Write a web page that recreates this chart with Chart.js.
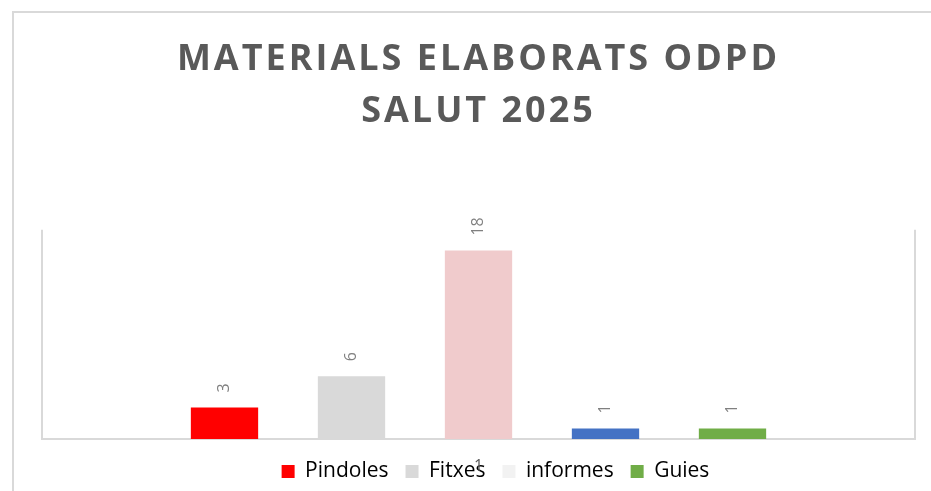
<!DOCTYPE html>
<html>
<head>
<meta charset="utf-8">
<script src="https://cdn.jsdelivr.net/npm/chart.js@4.4.1/dist/chart.umd.min.js"></script>
<style>
    html, body { margin: 0; padding: 0; background: #ffffff; overflow: hidden; }
    #frame { position: absolute; left: 12px; top: 11px; width: 940px; height: 500px;
             border-top: 2px solid #d9d9d9; border-left: 2px solid #d9d9d9; }
    #wrap { position: absolute; left: 0; top: 0; width: 931px; height: 491px; }
</style>
</head>
<body>
<div id="frame"></div>
<div id="wrap"><canvas id="chart" width="931" height="491"></canvas></div>
<script>
// chart data
const titleLines = ['MATERIALS ELABORATS ODPD', 'SALUT 2025'];
const slots = ['', 'Pindoles', 'Fitxes', 'informes', 'altres', 'Guies', ''];
const values = [null, 3, 6, 18, 1, 1, null];
const barColors = ['#ffffff', '#ff0000', '#d9d9d9', '#f0cbcc', '#4472c4', '#70ad47', '#ffffff'];
const legendNames = ['Pindoles', 'Fitxes', 'informes', 'Guies'];
const legendColors = ['#ff0000', '#d9d9d9', '#f2f2f2', '#70ad47'];
const yMin = 0;
const yMax = 20;
const strayLabel = { slot: 3, text: '1' }; // label sitting under the "informes" bar, on the legend row

// plot frame: left, right and bottom lines, inset a little from the category band
const plotFrame = {
    id: 'plotFrame',
    beforeDatasetsDraw(chart) {
        const { ctx, chartArea } = chart;
        const inset = 8;
        const l = chartArea.left + inset, r = chartArea.right - inset;
        ctx.save();
        ctx.strokeStyle = '#d9d9d9';
        ctx.lineWidth = 2;
        ctx.beginPath();
        ctx.moveTo(l, chartArea.top);
        ctx.lineTo(l, chartArea.bottom);
        ctx.lineTo(r, chartArea.bottom);
        ctx.lineTo(r, chartArea.top);
        ctx.stroke();
        ctx.restore();
    }
};

// rotated value labels above each bar
const barLabels = {
    id: 'barLabels',
    afterDatasetsDraw(chart) {
        const { ctx, chartArea } = chart;
        const meta = chart.getDatasetMeta(0);
        ctx.save();
        ctx.font = '16px "Open Sans"';
        ctx.fillStyle = '#808080';
        ctx.textAlign = 'left';
        ctx.textBaseline = 'middle';
        meta.data.forEach((bar, i) => {
            if (values[i] == null) return;
            ctx.save();
            ctx.translate(bar.x, bar.y - 15);
            ctx.rotate(-Math.PI / 2);
            ctx.fillText(String(values[i]), 0, 0);
            ctx.restore();
        });
        // the odd label that ended up on the legend line
        const b = meta.data[strayLabel.slot];
        ctx.fillStyle = '#595959';
        ctx.textAlign = 'center';
        ctx.fillText(strayLabel.text, b.x, chartArea.bottom + 27);
        ctx.restore();
    }
};

// spaced-out title letters and a legend nudged right/down, like the original
const titleAndLegend = {
    id: 'titleAndLegend',
    afterLayout(chart) {
        chart.legend.left += 17;
        chart.legend.right += 17;
        chart.legend.top += 2;
        chart.legend.bottom += 2;
    },
    beforeDraw(chart) {
        const tb = chart.titleBlock;
        if (!tb || tb._spaced) return;
        const draw = tb.draw.bind(tb);
        tb.draw = (area) => {
            chart.ctx.save();
            chart.ctx.letterSpacing = '3px';
            draw(area);
            chart.ctx.restore();
        };
        tb._spaced = true;
    }
};

const ctx = document.querySelector('#chart').getContext('2d');

new Chart(ctx, {
    type: 'bar',
    data: {
        labels: slots,
        datasets: [{
            label: 'Materials',
            data: values,
            backgroundColor: barColors,
            borderWidth: 0,
            barPercentage: 0.53,
            categoryPercentage: 1
        }]
    },
    options: {
        responsive: false,
        animation: false,
        devicePixelRatio: 1,
        layout: { padding: { left: 34, right: 8, top: 0, bottom: 1 } },
        scales: {
            x: {
                display: true,
                grid: { display: false },
                border: { display: false },
                ticks: { display: false },
                afterFit: (scale) => { scale.height = 3; }
            },
            y: {
                display: false,
                min: yMin,
                max: yMax
            }
        },
        plugins: {
            title: {
                display: true,
                text: titleLines,
                color: '#595959',
                font: { family: 'Open Sans', size: 36, weight: 'bold', lineHeight: 1.44 },
                padding: { top: 34, bottom: 92 }
            },
            legend: {
                display: true,
                position: 'bottom',
                labels: {
                    color: '#595959',
                    font: { family: 'Open Sans', size: 21 },
                    boxWidth: 13,
                    boxHeight: 13,
                    padding: 17,
                    generateLabels: () => legendNames.map((name, i) => ({
                        text: name,
                        fillStyle: legendColors[i],
                        strokeStyle: legendColors[i],
                        lineWidth: 0,
                        hidden: false,
                        index: i
                    }))
                }
            },
            tooltip: { enabled: false }
        }
    },
    plugins: [plotFrame, barLabels, titleAndLegend]
});
</script>
</body>
</html>
